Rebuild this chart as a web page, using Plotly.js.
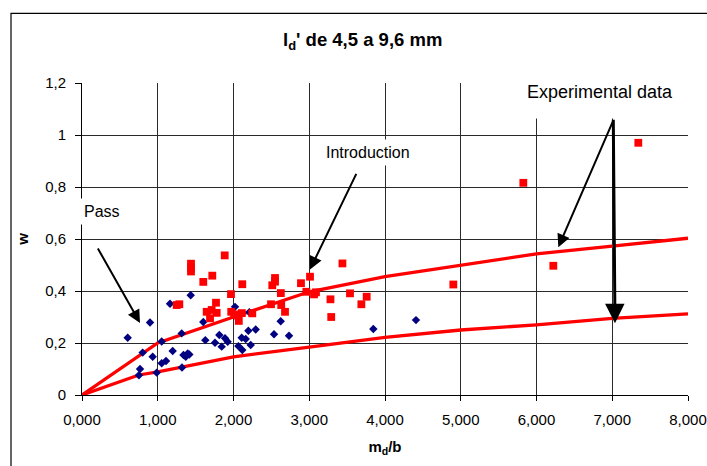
<!DOCTYPE html>
<html>
<head>
<meta charset="utf-8">
<script src="https://cdn.plot.ly/plotly-3.0.1.min.js"></script>
<style>html,body{margin:0;padding:0;background:#fff;}#chart{width:707px;height:466px;}</style>
</head>
<body>
<div id="chart"></div>
<script>
// Curve A and B
var curveAx = [0, 1.0, 2.0, 3.0, 4.0, 5.0, 6.0, 7.0, 8.0];
var curveAy = [0, 0.200, 0.300, 0.397, 0.455, 0.500, 0.543, 0.573, 0.603];
var curveBx = [0, 0.75, 1.0, 1.3, 2.0, 3.0, 4.0, 5.0, 6.0, 7.0, 8.0];
var curveBy = [0, 0.077, 0.089, 0.106, 0.147, 0.184, 0.222, 0.250, 0.270, 0.295, 0.312];

// Blue diamonds
var blueX = [0.603, 0.801, 0.766, 0.752, 0.898, 0.933, 0.986, 1.052, 1.052, 1.109, 1.162, 1.197,
             1.316, 1.320, 1.340, 1.370, 1.395, 1.417, 1.435, 1.601, 1.628, 1.756, 1.813, 1.844,
             1.888, 1.923, 2.020, 2.064, 2.108, 2.116, 2.161, 2.209, 2.196, 2.227, 2.293, 2.535,
             2.623, 2.733, 3.846, 4.409];
var blueY = [0.220, 0.163, 0.100, 0.076, 0.279, 0.147, 0.086, 0.206, 0.122, 0.131, 0.351, 0.169,
             0.237, 0.106, 0.154, 0.147, 0.160, 0.156, 0.384, 0.281, 0.211, 0.201, 0.231, 0.186,
             0.218, 0.205, 0.339, 0.188, 0.220, 0.173, 0.215, 0.318, 0.247, 0.192, 0.252, 0.234,
             0.284, 0.228, 0.254, 0.288];

// Red squares
var redX = [1.250, 1.285, 1.439, 1.439, 1.439, 1.601, 1.720, 1.646, 1.690, 1.712, 1.769, 1.778,
            1.884, 1.967, 1.970, 2.010, 2.060, 2.070, 2.110, 2.116, 2.248, 2.495, 2.512, 2.548,
            2.548, 2.625, 2.630, 2.680, 2.891, 2.962, 3.010, 3.063, 3.089, 3.280, 3.290, 3.438,
            3.538, 3.688, 3.758, 4.902, 5.826, 6.222, 7.344];
var redY = [0.346, 0.349, 0.505, 0.490, 0.475, 0.435, 0.459, 0.320, 0.295, 0.327, 0.355, 0.316,
            0.537, 0.388, 0.320, 0.310, 0.305, 0.285, 0.315, 0.426, 0.314, 0.349, 0.422, 0.450,
            0.436, 0.392, 0.346, 0.320, 0.430, 0.397, 0.455, 0.387, 0.395, 0.368, 0.300, 0.506,
            0.391, 0.349, 0.378, 0.425, 0.816, 0.497, 0.970];

var xTicks = [0, 1, 2, 3, 4, 5, 6, 7, 8];
var yTicks = [0, 0.2, 0.4, 0.6, 0.8, 1.0, 1.2];

var FONT = 'Liberation Sans, Arial, sans-serif';
var redC = '#FF0000';

var traces = [
  {x: curveAx, y: curveAy, mode: 'lines', line: {color: redC, width: 3.3}, hoverinfo: 'skip'},
  {x: curveBx, y: curveBy, mode: 'lines', line: {color: redC, width: 3.3}, hoverinfo: 'skip'},
  {x: blueX, y: blueY, mode: 'markers', marker: {symbol: 'diamond', size: 6.5, color: '#000080'}},
  {x: redX, y: redY, mode: 'markers', marker: {symbol: 'square', size: 7.8, color: redC}}
];

function arrow(x, y, ax, ay, w) {
  return {x: x, y: y, xref: 'x', yref: 'y', ax: ax, ay: ay, text: '', showarrow: true,
          arrowhead: 2, arrowsize: 1.3, arrowwidth: w || 2, arrowcolor: '#000', standoff: 0};
}

var layout = {
  width: 707, height: 466,
  margin: {l: 82, r: 19, t: 83, b: 71},
  paper_bgcolor: '#fff', plot_bgcolor: '#fff',
  showlegend: false,
  separators: ',.',
  font: {family: FONT, size: 15, color: '#000'},
  title: {text: "<b>l<sub>d</sub>' de 4,5 a 9,6 mm</b>", font: {family: FONT, size: 18.5, color: '#000'},
          xref: 'container', x: 0.513, xanchor: 'center', yref: 'container', y: 1 - 40/466, yanchor: 'middle'},
  xaxis: {
    range: [0, 8], tickvals: xTicks, tickformat: '.3f',
    showgrid: true, gridcolor: '#2a2a2a', gridwidth: 1,
    showline: true, linecolor: '#000', linewidth: 1,
    ticks: 'outside', ticklen: 5, tickcolor: '#000', ticklabelstandoff: 6,
    zeroline: false,
    tickfont: {family: FONT, size: 15, color: '#000'},
    title: {text: '<b>m<sub>d</sub>/b</b>', font: {family: FONT, size: 15, color: '#000'}, standoff: 14}
  },
  yaxis: {
    range: [0, 1.2], tickvals: yTicks,
    showgrid: true, gridcolor: '#2a2a2a', gridwidth: 1,
    showline: true, linecolor: '#000', linewidth: 1,
    ticks: 'outside', ticklen: 6, tickcolor: '#000', ticklabelstandoff: 6,
    zeroline: false,
    tickfont: {family: FONT, size: 15, color: '#000'},
    title: {text: '<b>w</b>', font: {family: FONT, size: 15, color: '#000'}, standoff: 12}
  },
  shapes: [
    {type: 'rect', xref: 'paper', yref: 'paper', x0: (11-82)/606, x1: 1.06, y0: -0.3, y1: (395-13)/312.3,
     line: {color: '#000', width: 1.2}, fillcolor: 'rgba(0,0,0,0)', layer: 'below'}
  ],
  annotations: [
    {x: 0.264, y: 0.707, xref: 'x', yref: 'y', text: 'Pass', showarrow: false, bgcolor: '#fff',
     borderpad: 4, font: {family: FONT, size: 16, color: '#000'}},
    {x: 3.776, y: 0.934, xref: 'x', yref: 'y', text: 'Introduction', showarrow: false, bgcolor: '#fff',
     borderpad: 4, font: {family: FONT, size: 16, color: '#000'}},
    {x: 6.838, y: 1.1645, xref: 'x', yref: 'y', text: 'Experimental data', showarrow: false, bgcolor: '#fff',
     width: 182, height: 46, borderpad: 3, font: {family: FONT, size: 18, color: '#000'}},
    {x: 8.185, y: 0.565, xref: 'x', yref: 'y', text: 'A', showarrow: false, xanchor: 'left',
     font: {family: FONT, size: 16, color: '#000'}},
    {x: 8.185, y: 0.277, xref: 'x', yref: 'y', text: 'B', showarrow: false, xanchor: 'left',
     font: {family: FONT, size: 16, color: '#000'}},
    arrow(0.766, 0.277, -43, -76),
    arrow(3.010, 0.483, 47, -97),
    arrow(6.288, 0.568, 55, -127),
    arrow(7.036, 0.276, -1.7, -205, 3)
  ]
};

Plotly.newPlot('chart', traces, layout, {staticPlot: true, displayModeBar: false});
</script>
</body>
</html>
